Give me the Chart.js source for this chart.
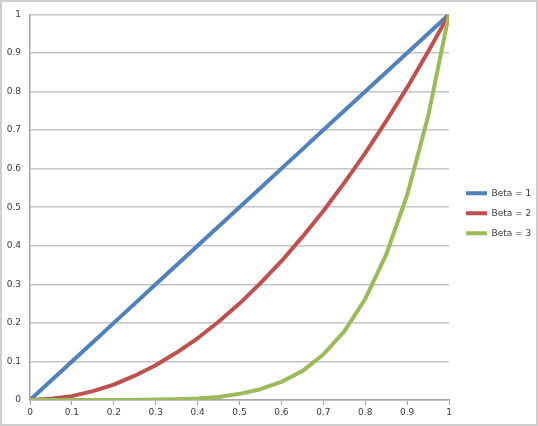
<!DOCTYPE html>
<html lang="en">
<head>
  <meta charset="UTF-8">
  <title>Beta curves</title>
  <script src="https://cdn.jsdelivr.net/npm/chart.js"></script>
  <style>
    * { margin: 0; padding: 0; box-sizing: border-box; }
    body { background: #fff; }
    .wrap { position: relative; width: 538px; height: 426px; background: #fff; box-shadow: inset 0 0 0 2px #cfcfcf; }
    canvas { position: absolute; left: 0; top: 0; }
  </style>
</head>
<body>
  <div class="wrap">
    <canvas id="chart" width="538" height="426"></canvas>
  </div>
  <script>
    const xs = [0, 0.05, 0.1, 0.15, 0.2, 0.25, 0.3, 0.35, 0.4, 0.45, 0.5,
                0.55, 0.6, 0.65, 0.7, 0.75, 0.8, 0.85, 0.9, 0.95, 1];
    const beta1 = [0, 0.05, 0.1, 0.15, 0.2, 0.25, 0.3, 0.35, 0.4, 0.45, 0.5,
                   0.55, 0.6, 0.65, 0.7, 0.75, 0.8, 0.85, 0.9, 0.95, 1];
    const beta2 = [0, 0.003, 0.01, 0.023, 0.04, 0.063, 0.09, 0.123, 0.16, 0.203, 0.25,
                   0.303, 0.36, 0.423, 0.49, 0.563, 0.64, 0.723, 0.81, 0.903, 1];
    const beta3 = [0, 0, 0, 0, 0, 0, 0.001, 0.002, 0.004, 0.008, 0.016,
                   0.028, 0.047, 0.075, 0.118, 0.178, 0.262, 0.377, 0.531, 0.735, 1];
    const seriesNames = ['Beta = 1', 'Beta = 2', 'Beta = 3'];
    const seriesColors = ['#4f81bd', '#c0504d', '#9bbb59'];
    const xTicks = [0, 0.1, 0.2, 0.3, 0.4, 0.5, 0.6, 0.7, 0.8, 0.9, 1];
    const yTicks = [0, 0.1, 0.2, 0.3, 0.4, 0.5, 0.6, 0.7, 0.8, 0.9, 1];

    const font = { family: 'DejaVu Sans', size: 9 };
    const textColor = '#3a3a3a';

    const toPoints = ys => xs.map((x, i) => ({ x: x, y: ys[i] }));

    // legend sits a little right of the plot area, like in Excel
    const legendTweak = {
      id: 'legendTweak',
      beforeInit(chart) {
        const fit = chart.legend.fit;
        chart.legend.fit = function () {
          fit.call(this);
          this.width = 89;
        };
      },
      afterLayout(chart) {
        const lg = chart.legend;
        lg.left += 6; lg.right += 6;
        lg.top += 6; lg.bottom += 6;
      }
    };

    new Chart(document.getElementById('chart'), {
      type: 'line',
      data: {
        datasets: [beta1, beta2, beta3].map((ys, i) => ({
          label: seriesNames[i],
          data: toPoints(ys),
          borderColor: seriesColors[i],
          backgroundColor: seriesColors[i],
          borderWidth: 4,
          borderJoinStyle: 'round',
          pointRadius: 0,
          tension: 0,
          fill: false,
          order: 3 - i
        }))
      },
      options: {
        responsive: false,
        animation: false,
        layout: { padding: { top: 14, right: 0, bottom: 0, left: 0 } },
        plugins: {
          tooltip: { enabled: false },
          legend: {
            position: 'right',
            fullSize: false,
            labels: {
              font: font,
              color: textColor,
              boxWidth: 21,
              boxHeight: 4,
              padding: 11,
              sort: (a, b) => a.datasetIndex - b.datasetIndex,
              generateLabels: chart => Chart.defaults.plugins.legend.labels.generateLabels(chart)
                .map(l => ({ ...l, lineWidth: 0, fillStyle: l.strokeStyle }))
            }
          }
        },
        scales: {
          x: {
            type: 'linear',
            min: 0,
            max: 1,
            afterBuildTicks: s => { s.ticks = xTicks.map(v => ({ value: v })); },
            afterFit: s => { s.height = 26; },
            grid: { drawOnChartArea: false, drawTicks: true, tickLength: 5, color: '#a6a6a6', lineWidth: 1 },
            border: { color: '#a6a6a6', width: 1.5 },
            ticks: { font: font, color: textColor, padding: 2, maxRotation: 0, callback: v => String(v) }
          },
          y: {
            type: 'linear',
            min: 0,
            max: 1,
            afterBuildTicks: s => { s.ticks = yTicks.map(v => ({ value: v })); },
            afterFit: s => { s.width = 30; },
            grid: { drawTicks: false, color: '#c4c4c4', lineWidth: 1.5 },
            border: { color: '#a6a6a6', width: 1.5 },
            ticks: { font: font, color: textColor, padding: 9, callback: v => String(v) }
          }
        }
      },
      plugins: [legendTweak]
    });
  </script>
</body>
</html>
